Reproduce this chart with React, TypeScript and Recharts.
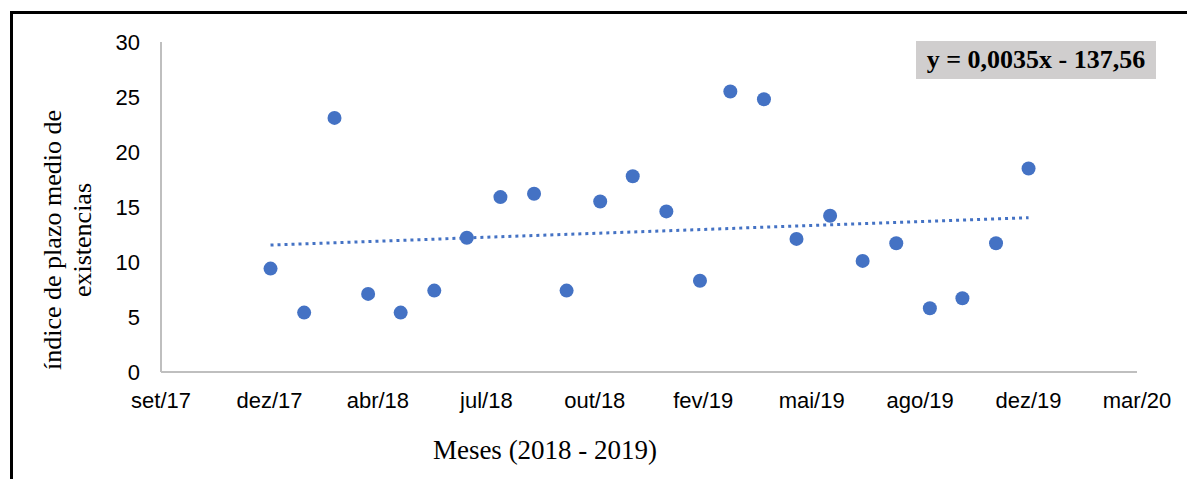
import React from "react";
import { ScatterChart, Scatter, XAxis, YAxis } from "recharts";

// months (first day) and the index values
const MONTHS = [
  "2018-01", "2018-02", "2018-03", "2018-04", "2018-05", "2018-06",
  "2018-07", "2018-08", "2018-09", "2018-10", "2018-11", "2018-12",
  "2019-01", "2019-02", "2019-03", "2019-04", "2019-05", "2019-06",
  "2019-07", "2019-08", "2019-09", "2019-10", "2019-11", "2019-12",
];
const VALUES = [
  9.4, 5.4, 23.1, 7.1, 5.4, 7.4,
  12.2, 15.9, 16.2, 7.4, 15.5, 17.8,
  14.6, 8.3, 25.5, 24.8, 12.1, 14.2,
  10.1, 11.7, 5.8, 6.7, 11.7, 18.5,
];
const X_TICKS = [43000, 43100, 43200, 43300, 43400, 43500, 43600, 43700, 43800, 43900];
const Y_TICKS = [0, 5, 10, 15, 20, 25, 30];
const MES = ["jan", "fev", "mar", "abr", "mai", "jun", "jul", "ago", "set", "out", "nov", "dez"];
const EQUATION = "y = 0,0035x - 137,56";

const BLUE = "#4472C4";

// excel-style date serial
const toSerial = (ym: string) => {
  const [y, m] = ym.split("-").map(Number);
  return Date.UTC(y, m - 1, 1) / 86400000 + 25569;
};
const fmtTick = (s: number) => {
  const d = new Date((s - 25569) * 86400000);
  return MES[d.getUTCMonth()] + "/" + String(d.getUTCFullYear()).slice(2);
};

const points = MONTHS.map((m, i) => ({ x: toSerial(m), y: VALUES[i] }));

// linear trendline (least squares), drawn between first and last month
const n = points.length;
const mx = points.reduce((a, p) => a + p.x, 0) / n;
const my = points.reduce((a, p) => a + p.y, 0) / n;
const slope =
  points.reduce((a, p) => a + (p.x - mx) * (p.y - my), 0) /
  points.reduce((a, p) => a + (p.x - mx) ** 2, 0);
const trend = [points[0], points[n - 1]].map((p) => ({ x: p.x, y: my + slope * (p.x - mx) }));

const tickStyle = { fill: "#000", fontSize: 22, fontFamily: "Liberation Sans, Arial, sans-serif" };
const serif = "Liberation Serif, Times New Roman, serif";

export default function App() {
  return (
    <div style={{ position: "absolute", left: 0, top: 0, width: 1187, height: 479, overflow: "hidden", background: "#fff" }}>
      <div style={{ position: "absolute", left: 10, top: 11, width: 1300, height: 600, borderTop: "3px solid #000", borderLeft: "3px solid #000" }} />
      <ScatterChart width={1187} height={479} margin={{ top: 42, right: 50, left: 0, bottom: 67 }}>
        <XAxis
          type="number"
          dataKey="x"
          domain={[43000, 43900]}
          ticks={X_TICKS}
          tickFormatter={fmtTick}
          allowDataOverflow
          height={40}
          axisLine={{ stroke: "#BFBFBF", strokeWidth: 2 }}
          tickLine={false}
          tickSize={0}
          tickMargin={20}
          tick={tickStyle}
        />
        <YAxis
          type="number"
          dataKey="y"
          domain={[0, 30]}
          ticks={Y_TICKS}
          width={161}
          axisLine={{ stroke: "#BFBFBF", strokeWidth: 2 }}
          tickLine={false}
          tickSize={0}
          tickMargin={21}
          tick={tickStyle}
        />
        <Scatter
          data={trend}
          line={{ stroke: BLUE, strokeWidth: 3, strokeDasharray: "3 4" }}
          shape={() => <g />}
          isAnimationActive={false}
        />
        <Scatter
          data={points}
          fill={BLUE}
          shape={(p: any) => <circle cx={p.cx} cy={p.cy} r={7} fill={BLUE} />}
          isAnimationActive={false}
        />
      </ScatterChart>
      <div
        style={{
          position: "absolute", left: 68, top: 240, transform: "translate(-50%, -50%) rotate(-90deg)",
          fontFamily: serif, fontSize: 26, lineHeight: "30px", textAlign: "center", whiteSpace: "nowrap", color: "#000",
        }}
      >
        índice de plazo medio de
        <br />
        existencias
      </div>
      <div
        style={{
          position: "absolute", left: 545, top: 450, transform: "translate(-50%, -50%)",
          fontFamily: serif, fontSize: 27, whiteSpace: "nowrap", color: "#000",
        }}
      >
        Meses (2018 - 2019)
      </div>
      <div
        style={{
          position: "absolute", left: 916, top: 41, width: 240, height: 38, background: "#D0CECE",
          fontFamily: serif, fontWeight: "bold", fontSize: 26, lineHeight: "38px", textAlign: "center",
          whiteSpace: "nowrap", color: "#000",
        }}
      >
        {EQUATION}
      </div>
    </div>
  );
}
